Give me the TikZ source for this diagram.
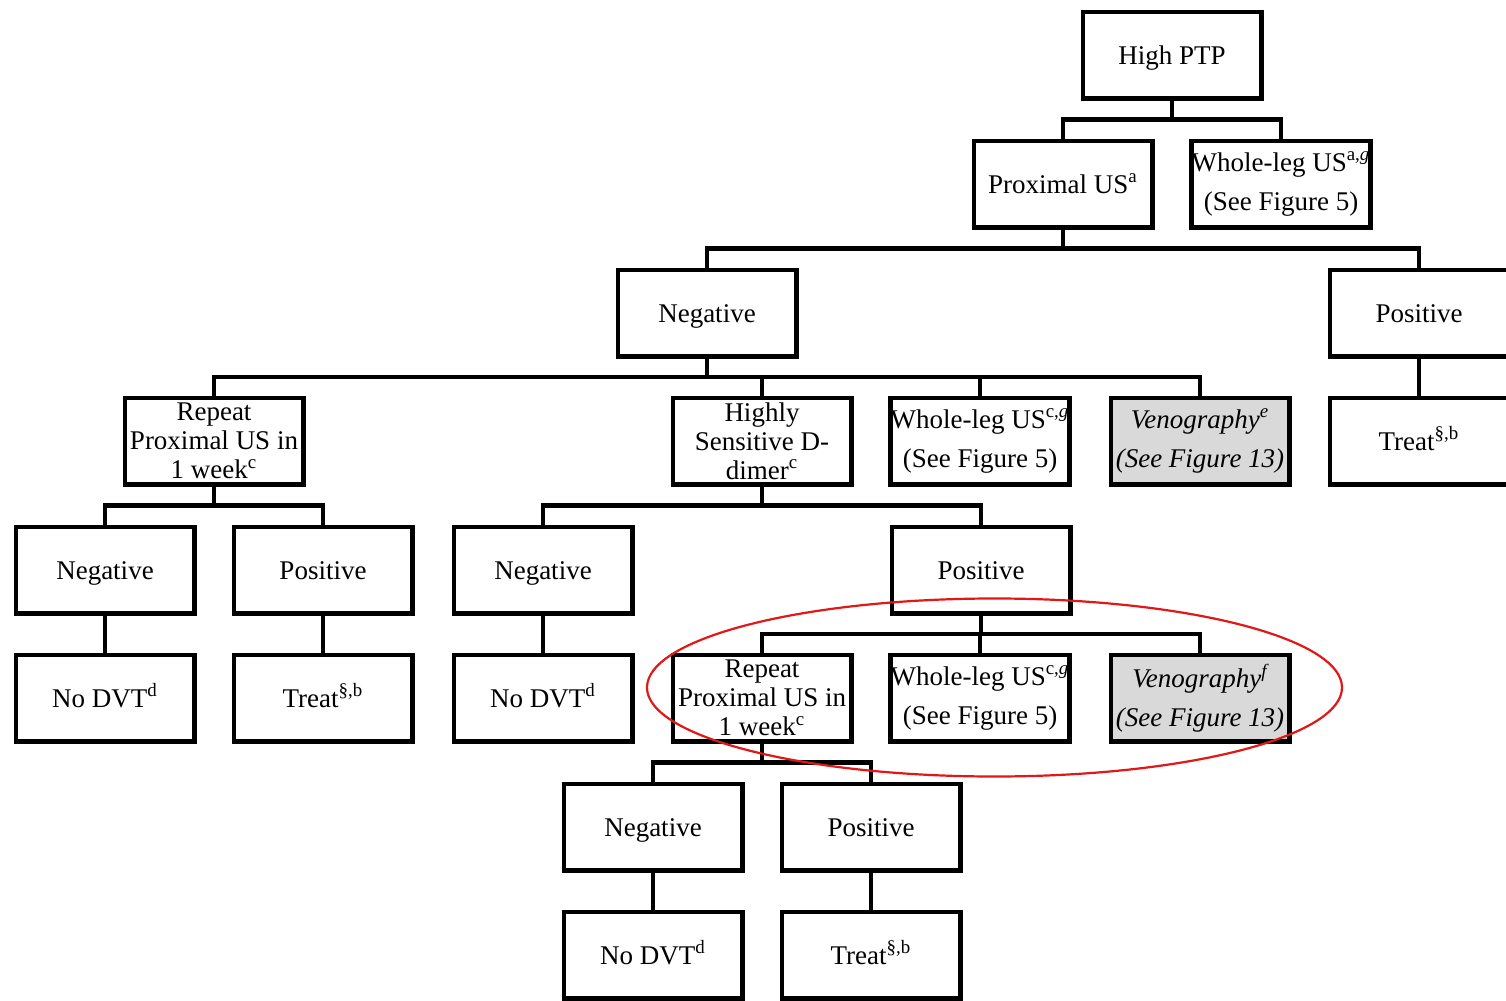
\documentclass[tikz,border=0pt]{standalone}
\usepackage{fontspec}
\setmainfont{Liberation Serif}
\usetikzlibrary{calc}
\definecolor{boxgray}{HTML}{D9D9D9}
\definecolor{ringred}{HTML}{E01818}
\begin{document}
\begin{tikzpicture}[x=0.5pt,y=-0.5pt,
  box/.style={draw=black,line width=2.2pt,fill=white,minimum width=89.3pt,minimum height=43.3pt,
    inner sep=0pt,align=center,font=\fontsize{13.5}{14.4}\selectfont},
  onebox/.style={box,text height=9pt,text depth=0pt},
  greybox/.style={box,fill=boxgray,font=\fontsize{13.5}{14.4}\selectfont\itshape},
  conn/.style={line width=2.2pt}]
\useasboundingbox (0,0) rectangle (1506,1001);
\clip (0,0) rectangle (1506,1001);
\fill[white] (0,0) rectangle (1506,1001);

% level 0 and 1
\node[onebox] (high)  at (1172,55)  {High PTP};
\node[onebox] (prox)  at (1063,184) {Proximal US\textsuperscript{a}};
\node[box] (wl0)   at (1281,184) {Whole-leg US\textsuperscript{a,\textit{g}}\\[5pt](See Figure 5)};

% level 2
\node[onebox] (neg1)  at (707,313)  {Negative};
\node[onebox] (pos1)  at (1419,313) {Positive};

% level 3
\node[box] (rep1)  at (214,441)  {Repeat\\Proximal US in\\1 week\textsuperscript{c}};
\node[box] (dd)    at (762,441)  {Highly\\Sensitive D-\\dimer\textsuperscript{c}};
\node[box] (wl1)   at (980,441)  {Whole-leg US\textsuperscript{c,\textit{g}}\\[5pt](See Figure 5)};
\node[greybox] (ven1) at (1200,441) {Venography\textsuperscript{e}\\[5pt](See Figure 13)};
\node[onebox] (treat1) at (1419,441) {Treat\textsuperscript{§,b}};

% level 4
\node[onebox] (neg2)  at (105,570)  {Negative};
\node[onebox] (pos2)  at (323,570)  {Positive};
\node[onebox] (neg3)  at (543,570)  {Negative};
\node[onebox] (pos3)  at (981,570)  {Positive};

% level 5
\node[onebox] (nodvt1) at (105,698) {No DVT\textsuperscript{d}};
\node[onebox] (treat2) at (323,698) {Treat\textsuperscript{§,b}};
\node[onebox] (nodvt2) at (543,698) {No DVT\textsuperscript{d}};
\node[box] (rep2)   at (762,698) {Repeat\\Proximal US in\\1 week\textsuperscript{c}};
\node[box] (wl2)    at (980,698) {Whole-leg US\textsuperscript{c,\textit{g}}\\[5pt](See Figure 5)};
\node[greybox] (ven2) at (1200,698) {Venography\textsuperscript{\textit{f}}\\[5pt](See Figure 13)};

% level 6 and 7
\node[onebox] (neg4)   at (653,827) {Negative};
\node[onebox] (pos4)   at (871,827) {Positive};
\node[onebox] (nodvt3) at (653,955) {No DVT\textsuperscript{d}};
\node[onebox] (treat3) at (871,955) {Treat\textsuperscript{§,b}};

% branch connectors: parent -> bar -> children
\coordinate (j0) at ($(high.south)!0.5!(prox.north)$);
\draw[conn] (high.south) -- (high.south |- j0);
\draw[conn] (prox.north) |- (j0) -| (wl0.north);

\coordinate (j1) at ($(prox.south)!0.5!(neg1.north)$);
\draw[conn] (prox.south) -- (prox.south |- j1);
\draw[conn] (neg1.north) |- (j1) -| (pos1.north);

\coordinate (j2) at ($(neg1.south)!0.5!(rep1.north)$);
\draw[conn] (neg1.south) -- (neg1.south |- j2);
\draw[conn] (rep1.north) |- (j2) -| (ven1.north);
\draw[conn] (dd.north) -- (dd.north |- j2);
\draw[conn] (wl1.north) -- (wl1.north |- j2);

\draw[conn] (pos1.south) -- (treat1.north);

\coordinate (j3) at ($(rep1.south)!0.5!(neg2.north)$);
\draw[conn] (rep1.south) -- (rep1.south |- j3);
\draw[conn] (neg2.north) |- (j3) -| (pos2.north);

\coordinate (j4) at ($(dd.south)!0.5!(neg3.north)$);
\draw[conn] (dd.south) -- (dd.south |- j4);
\draw[conn] (neg3.north) |- (j4) -| (pos3.north);

\draw[conn] (neg2.south) -- (nodvt1.north);
\draw[conn] (pos2.south) -- (treat2.north);
\draw[conn] (neg3.south) -- (nodvt2.north);

\coordinate (j5) at ($(pos3.south)!0.5!(rep2.north)$);
\draw[conn] (pos3.south) -- (pos3.south |- j5);
\draw[conn] (rep2.north) |- (j5) -| (ven2.north);
\draw[conn] (wl2.north) -- (wl2.north |- j5);

\coordinate (j6) at ($(rep2.south)!0.5!(neg4.north)$);
\draw[conn] (rep2.south) -- (rep2.south |- j6);
\draw[conn] (neg4.north) |- (j6) -| (pos4.north);

\draw[conn] (neg4.south) -- (nodvt3.north);
\draw[conn] (pos4.south) -- (treat3.north);

% highlight ring
\draw[ringred,line width=1.1pt] (994.5,687.5) ellipse [x radius=347.5, y radius=89];
\end{tikzpicture}
\end{document}
